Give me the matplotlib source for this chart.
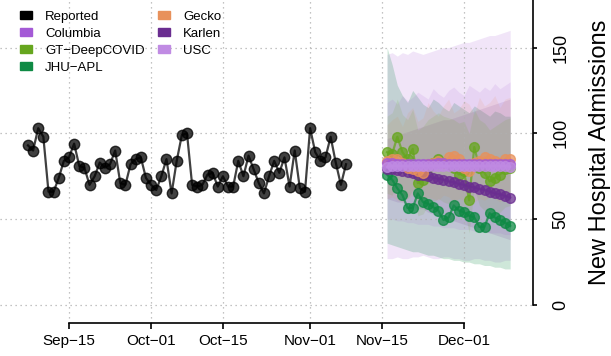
import matplotlib
matplotlib.use("Agg")
import matplotlib.pyplot as plt
import matplotlib.dates as mdates
from matplotlib.patches import Patch
import pandas as pd
import numpy as np

plt.rcParams['font.family'] = ['Liberation Sans', 'DejaVu Sans']

# reported daily admissions, Sep 7 - Nov 8
rep_dates = pd.date_range("2020-09-07", "2020-11-08", freq="D")
reported = [93, 90, 103, 98, 66, 66, 74, 84, 86, 94, 81, 80, 70, 75, 83, 80,
            82, 90, 71, 70, 82, 85, 86, 74, 70, 67, 75, 85, 65, 84, 99, 100,
            70, 69, 70, 76, 77, 69, 75, 69, 69, 84, 75, 87, 79, 71, 65, 75,
            84, 77, 86, 69, 90, 68, 66, 103, 89, 84, 86, 98, 83, 70, 82]

# forecasts, Nov 16 - Dec 10
fc_dates = pd.date_range("2020-11-16", "2020-12-10", freq="D")
columbia = [83, 83, 82, 82, 82, 82, 82, 82, 82, 82, 83, 83, 82, 82, 82, 82,
            82, 82, 82, 82, 82, 82, 82, 82, 82]
gt_deepcovid = [89, 88, 98, 89, 85, 91, 71, 73, 80, 83, 85, 83, 82, 80, 76,
                78, 61, 92, 80, 77, 72, 74, 76, 79, 80]
jhu_apl = [76, 73, 68, 64, 56.5, 56.5, 65, 60, 59, 57, 55, 49.5, 51, 58, 55,
           54, 52, 51, 45.5, 45.5, 53.5, 51, 49.5, 48, 46]
gecko = [84, 85, 85, 83, 80, 79, 78, 77, 82, 83, 84, 83, 86, 87, 85, 80, 78,
         83, 84, 86, 85, 84, 83, 85, 85]
karlen = [79, 79, 78.5, 78, 77.5, 77, 76, 75.5, 75, 74, 73.5, 73, 72, 71.5,
          70.5, 70, 69, 68.5, 67.5, 67, 66, 65, 64.5, 63.5, 62.5]
usc = [80.5, 81, 81, 81, 81, 81, 81, 81, 81, 81, 81, 81, 81, 81, 81, 81, 81,
       81, 81, 81, 81, 81, 81, 81, 80.5]

# prediction intervals
usc_lo = [27, 27, 28, 27, 27, 28, 28, 29, 28, 27, 27, 28, 28, 27, 27, 26, 26,
          27, 27, 26, 26, 25, 25, 26, 26]
usc_hi = [146, 147, 145, 147, 146, 148, 147, 146, 147, 148, 149, 150, 150, 151,
          152, 153, 153, 154, 155, 156, 157, 157, 158, 159, 160]
jhu_lo = [36, 35, 34, 33, 32, 31, 31, 30, 29, 29, 28, 27, 27, 26, 26, 25, 25,
          24, 24, 23, 23, 22, 22, 21, 21]
jhu_hi = [150, 140, 128, 122, 118, 125, 121, 117, 115, 120, 118, 115, 113, 118,
          116, 114, 112, 116, 114, 112, 110, 113, 112, 110, 110]
col_lo = [50, 50, 49, 49, 48, 48, 47, 47, 47, 46, 46, 45, 45, 45, 44, 44, 44,
          43, 43, 43, 42, 42, 42, 41, 41]
col_hi = [118, 120, 117, 122, 119, 121, 124, 122, 120, 126, 123, 121, 125, 127,
          124, 122, 128, 126, 124, 127, 125, 129, 126, 128, 130]
kar_lo = [62, 61, 60, 60, 58, 57, 56, 56, 54, 53, 52, 51, 50, 49, 48, 47, 46,
          45, 45, 43, 42, 41, 40, 39, 38]
kar_hi = [97, 98, 99, 100, 101, 102, 103, 104, 105, 106, 107, 108, 108, 109,
          110, 111, 112, 113, 114, 115, 116, 117, 118, 119, 120]
gec_lo = [62, 63, 61, 60, 62, 64, 61, 60, 63, 62, 61, 64, 63, 60, 62, 61, 63,
          60, 62, 61, 63, 62, 60, 62, 61]
gec_hi = [105, 108, 110, 104, 112, 115, 107, 109, 118, 113, 110, 116, 120, 112,
          114, 119, 117, 111, 121, 116, 118, 122, 115, 120, 121]
gt_lo = [65, 64, 72, 66, 62, 67, 52, 53, 58, 60, 62, 60, 59, 58, 55, 56, 42,
         68, 58, 55, 51, 52, 54, 57, 58]
gt_hi = [110, 112, 120, 111, 108, 114, 102, 104, 108, 110, 112, 110, 109, 108,
         106, 107, 100, 114, 108, 106, 102, 104, 106, 108, 109]

tick_dates = pd.to_datetime(["2020-09-15", "2020-10-01", "2020-10-15",
                             "2020-11-01", "2020-11-15", "2020-12-01"])
tick_labels = ["Sep\u221215", "Oct\u221201", "Oct\u221215", "Nov\u221201",
               "Nov\u221215", "Dec\u221201"]

colors = {
    "Reported": "#000000",
    "Columbia": "#A45AD6",
    "GT\u2212DeepCOVID": "#66A61E",
    "JHU\u2212APL": "#0E8A44",
    "Gecko": "#E8915B",
    "Karlen": "#6A2D90",
    "USC": "#C08BE3",
}

fig = plt.figure(figsize=(6.11, 3.56), dpi=100)
ax = fig.add_axes([0, 33 / 356, 533 / 611, 323 / 356])

# bands
bands = [(usc_lo, usc_hi, "USC"), (jhu_lo, jhu_hi, "JHU\u2212APL"),
         (col_lo, col_hi, "Columbia"), (kar_lo, kar_hi, "Karlen"),
         (gec_lo, gec_hi, "Gecko"), (gt_lo, gt_hi, "GT\u2212DeepCOVID")]
band_alpha = {"USC": 0.22, "JHU\u2212APL": 0.2, "Columbia": 0.12,
              "Karlen": 0.12, "Gecko": 0.12, "GT\u2212DeepCOVID": 0.12}
for lo, hi, name in bands:
    ax.fill_between(fc_dates, lo, hi, color=colors[name],
                    alpha=band_alpha[name], lw=0)

ax.plot(rep_dates, reported, color="black", lw=1.6, marker="o", ms=7.5,
        alpha=0.75)

for vals, name in [(gt_deepcovid, "GT\u2212DeepCOVID"), (jhu_apl, "JHU\u2212APL"),
                   (karlen, "Karlen"), (gecko, "Gecko"),
                   (columbia, "Columbia"), (usc, "USC")]:
    ax.plot(fc_dates, vals, color=colors[name], lw=1.6, marker="o", ms=7,
            alpha=0.75)

t0 = mdates.date2num(pd.Timestamp("2020-09-15"))
ax.set_xlim(t0 - 13.45, t0 + 90.45)
ax.set_ylim(-10.5, 177.7)

ax.set_xticks(tick_dates)
ax.set_xticklabels(tick_labels)
ax.set_yticks([0, 50, 100, 150])
ax.yaxis.tick_right()
ax.grid(True, linestyle=(0, (1, 3)), color="#b0b0b0", lw=0.9)

for s in ["left", "top"]:
    ax.spines[s].set_visible(False)
ax.spines["bottom"].set_bounds(mdates.date2num(tick_dates[0]),
                               mdates.date2num(tick_dates[-1]))
ax.spines["right"].set_bounds(0, 177.7)
ax.spines["bottom"].set_linewidth(1.2)
ax.spines["right"].set_linewidth(1.2)
ax.tick_params(axis="x", length=4, width=1.2, labelsize=11, pad=4)
ax.tick_params(axis="y", length=3, width=1.2, labelsize=13, pad=11,
               labelrotation=90)
for lab in ax.get_yticklabels():
    lab.set_va("center")

fig.text(600 / 611, 1 - 152 / 356, "New Hospital Admissions", rotation=90,
         ha="center", va="center", fontsize=17)

handles = [Patch(color=c) for c in colors.values()]
ax.legend(handles, list(colors.keys()), ncol=2, frameon=False, fontsize=9.5,
          loc="upper left", bbox_to_anchor=(20 / 611, 1 - 11 / 356),
          bbox_transform=fig.transFigure, borderpad=0, borderaxespad=0,
          handlelength=0.9, handleheight=0.55, handletextpad=1.0,
          columnspacing=1.0, labelspacing=0.38)

fig.savefig("out.png", dpi=100)
